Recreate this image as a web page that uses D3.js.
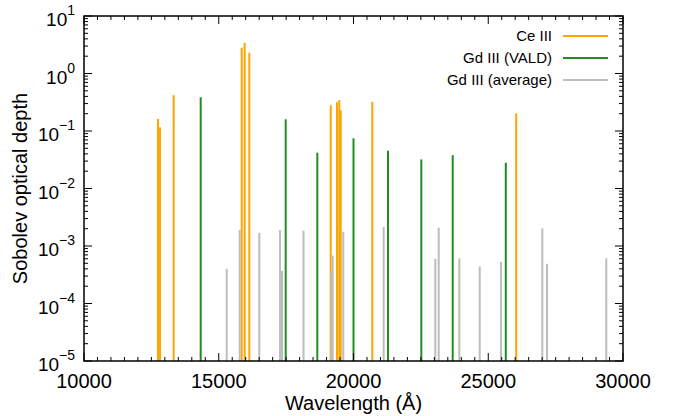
<!DOCTYPE html>
<html>
<head>
<meta charset="utf-8">
<script src="https://cdn.jsdelivr.net/npm/d3@7"></script>
<style>
  body { margin: 0; background: #fff; }
  text { font-family: "Liberation Sans", Arial, sans-serif; fill: #000; }
</style>
</head>
<body>
<div id="chart"></div>
<script>
// line positions (Å) and Sobolev optical depths
const ceWave = [12746, 12820, 13328, 15852, 15963, 16134, 19154, 19388, 19473, 19525, 20698, 26037];
const ceTau  = [0.162, 0.116, 0.42, 2.81, 3.43, 2.30, 0.28, 0.315, 0.346, 0.229, 0.324, 0.203];

const gdWave = [14330, 17484, 18657, 20000, 21280, 22516, 23681, 25651];
const gdTau  = [0.385, 0.16, 0.042, 0.0746, 0.0455, 0.032, 0.038, 0.028];

const avgWave = [15295, 15777, 16505, 17273, 17347, 18145, 19184, 19228, 19622, 21120,
                 23035, 23161, 23926, 24683, 25473, 27006, 27180, 29380];
const avgTau  = [4.0e-4, 1.9e-3, 1.7e-3, 1.9e-3, 3.7e-4, 1.85e-3, 3.5e-4, 6.8e-4, 1.77e-3, 2.14e-3,
                 6.0e-4, 2.08e-3, 6.1e-4, 4.4e-4, 5.3e-4, 2.03e-3, 4.9e-4, 6.1e-4];

const xTicks = [10000, 15000, 20000, 25000, 30000];
const yExps = [-5, -4, -3, -2, -1, 0, 1];

const series = [
  { name: 'Ce III', wave: ceWave, tau: ceTau, color: '#ffa500' },
  { name: 'Gd III (VALD)', wave: gdWave, tau: gdTau, color: '#228b22' },
  { name: 'Gd III (average)', wave: avgWave, tau: avgTau, color: '#bdbdbd' }
];

const W = 678, H = 416;
const m = { left: 84, right: 55, top: 16, bottom: 55 };

const svg = d3.select('#chart').append('svg')
  .attr('width', W).attr('height', H);

const x = d3.scaleLinear().domain([10000, 30000]).range([m.left, W - m.right]);
const y = d3.scaleLog().domain([1e-5, 10]).range([H - m.bottom, m.top]);

// the lines themselves
series.forEach(s => {
  svg.append('g').selectAll('line')
    .data(s.wave.map((w, i) => ({ w, t: s.tau[i] })))
    .join('line')
    .attr('x1', d => x(d.w)).attr('x2', d => x(d.w))
    .attr('y1', y(1e-5)).attr('y2', d => y(d.t))
    .attr('stroke', s.color)
    .attr('stroke-width', 2);
});

// ticks (inward, all four sides)
const xMinor = d3.range(10000, 30001, 500).filter(v => v % 5000 !== 0);
const yMinor = [];
for (let e = -5; e < 1; e++) for (let k = 2; k < 10; k++) yMinor.push(k * Math.pow(10, e));

const tk = svg.append('g').attr('stroke', '#000').attr('stroke-width', 1);
const x0 = x.range()[0], x1 = x.range()[1], y0 = y.range()[0], y1 = y.range()[1];
[[xTicks, 8], [xMinor, 4]].forEach(([vals, len]) => {
  vals.forEach(v => {
    tk.append('line').attr('x1', x(v)).attr('x2', x(v)).attr('y1', y0).attr('y2', y0 - len);
    tk.append('line').attr('x1', x(v)).attr('x2', x(v)).attr('y1', y1).attr('y2', y1 + len);
  });
});
[[yExps.map(e => Math.pow(10, e)), 8], [yMinor, 4]].forEach(([vals, len]) => {
  vals.forEach(v => {
    tk.append('line').attr('x1', x0).attr('x2', x0 + len).attr('y1', y(v)).attr('y2', y(v));
    tk.append('line').attr('x1', x1).attr('x2', x1 - len).attr('y1', y(v)).attr('y2', y(v));
  });
});

// frame
svg.append('rect')
  .attr('x', x0).attr('y', y1)
  .attr('width', x1 - x0).attr('height', y0 - y1)
  .attr('fill', 'none').attr('stroke', '#000').attr('stroke-width', 1.5);

// x tick labels
svg.append('g').selectAll('text')
  .data(xTicks).join('text')
  .attr('x', d => x(d)).attr('y', y0 + 27)
  .attr('text-anchor', 'middle')
  .style('font-size', '20px')
  .text(d => d);

// y tick labels 10^n
const yl = svg.append('g').selectAll('text')
  .data(yExps).join('text')
  .attr('x', x0 - 9).attr('y', d => y(Math.pow(10, d)) + 10)
  .attr('text-anchor', 'end')
  .style('font-size', '19px');
yl.append('tspan').text('10');
yl.append('tspan').attr('dy', -11).style('font-size', '14px').text(d => d < 0 ? '\u2212' + (-d) : d);

// axis titles
svg.append('text')
  .attr('x', (x0 + x1) / 2).attr('y', 410)
  .attr('text-anchor', 'middle')
  .style('font-size', '20px')
  .text('Wavelength (Å)');

svg.append('text')
  .attr('transform', `translate(27,${(y0 + y1) / 2}) rotate(-90)`)
  .attr('text-anchor', 'middle')
  .style('font-size', '20px')
  .text('Sobolev optical depth');

// legend
const lg = svg.append('g');
series.forEach((s, i) => {
  const ly = 36 + i * 22;
  lg.append('text').attr('x', 552).attr('y', ly + 5)
    .attr('text-anchor', 'end').style('font-size', '15px').text(s.name);
  lg.append('line').attr('x1', 563).attr('x2', 608).attr('y1', ly).attr('y2', ly)
    .attr('stroke', s.color).attr('stroke-width', 2);
});
</script>
</body>
</html>
